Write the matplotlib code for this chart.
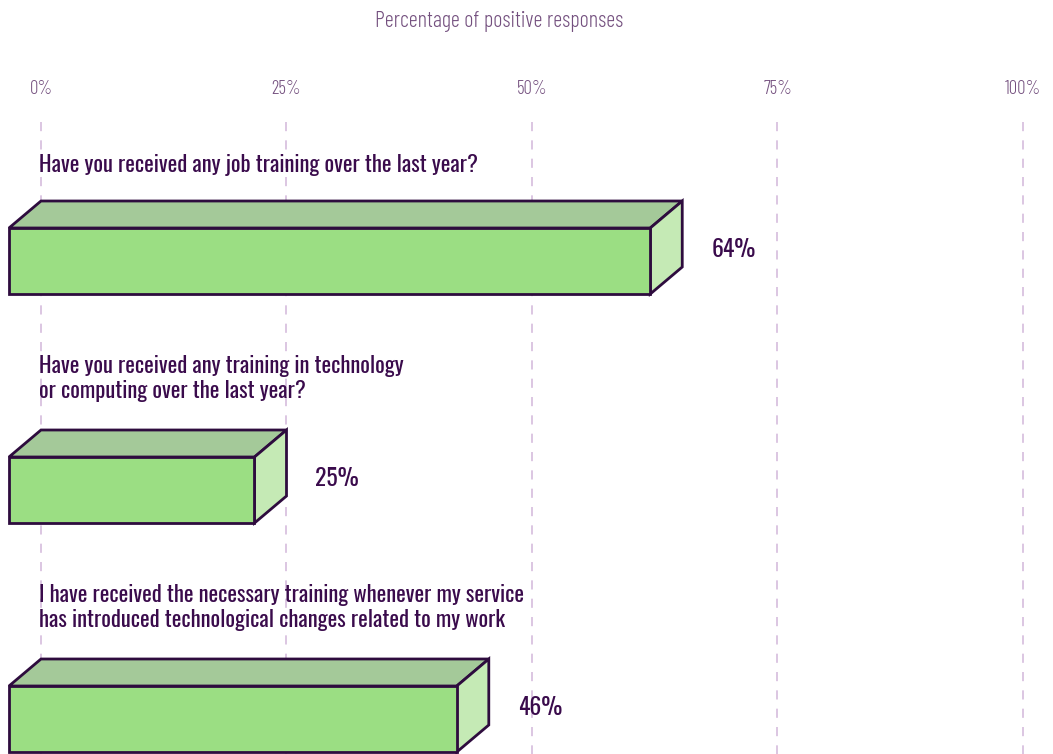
import matplotlib
matplotlib.use("Agg")
import matplotlib.pyplot as plt
from matplotlib.patches import Polygon, Rectangle

# ---- data ----
questions = [
    "Have you received any job training over the last year?",
    "Have you received any training in technology\nor computing over the last year?",
    "I have received the necessary training whenever my service\nhas introduced technological changes related to my work",
]
bar_values = [65.3, 25.0, 45.6]          # bar length (%) as drawn in the picture
value_labels = ["64%", "25%", "46%"]     # printed labels
tick_values = [0, 25, 50, 75, 100]
tick_labels = ["0%", "25%", "50%", "75%", "100%"]
axis_title = "Percentage of positive responses"

# ---- style ----
W, H = 1053, 754
PX_PER_PCT = 9.82
X0_PX = 41
FRONT = "#9bde83"
TOP = "#a4c999"
SIDE = "#c5eab5"
EDGE = "#2e0c3e"
DARK = "#3a0b4c"
MUTED = "#74507f"
GRID = "#d2b6da"
QFONT = "Oswald"
LFONT = "Barlow Condensed"

fig = plt.figure(figsize=(W / 100, H / 100), dpi=100)
ax = fig.add_axes([0, 0, 1, 1])
ax.set_xlim(-X0_PX / PX_PER_PCT, (W - X0_PX) / PX_PER_PCT)
ax.set_ylim(H, 0)
ax.axis("off")

depth_x = 32 / PX_PER_PCT   # depth in % units
depth_y = 27                # depth in px units
bar_h = 66
first_top = 228
spacing = 229

# grid
for t in tick_values:
    ax.plot([t, t], [122, H], color=GRID, lw=1.1, ls=(0, (6, 6)), zorder=0)

for t, lab in zip(tick_values, tick_labels):
    ax.text(t, 89, lab, ha="center", va="center", fontsize=13.5, color=MUTED,
            family=LFONT, fontweight=300)

ax.text((W / 2 - 27 - X0_PX) / PX_PER_PCT, 21, axis_title, ha="center", va="center",
        fontsize=16, color=MUTED, family=LFONT, fontweight=300)

for i, (q, v, lab) in enumerate(zip(questions, bar_values, value_labels)):
    top = first_top + spacing * i
    x_left = -depth_x
    x_right = v - depth_x
    lw = 2.0
    # top face
    ax.add_patch(Polygon([(x_left, top), (x_left + depth_x, top - depth_y),
                          (v, top - depth_y), (x_right, top)],
                         closed=True, facecolor=TOP, edgecolor=EDGE, lw=lw,
                         joinstyle="miter", zorder=2))
    # side face
    ax.add_patch(Polygon([(x_right, top), (v, top - depth_y),
                          (v, top - depth_y + bar_h), (x_right, top + bar_h)],
                         closed=True, facecolor=SIDE, edgecolor=EDGE, lw=lw,
                         joinstyle="miter", zorder=2))
    # front face
    ax.add_patch(Rectangle((x_left, top), x_right - x_left, bar_h,
                           facecolor=FRONT, edgecolor=EDGE, lw=lw,
                           joinstyle="miter", zorder=3))
    # value label
    ax.text(v + 29 / PX_PER_PCT, top - depth_y / 2 + bar_h / 2 + 2, lab,
            ha="left", va="center", fontsize=17, color=DARK, family=QFONT, zorder=4)
    # question
    nlines = q.count("\n") + 1
    q_bottom = top - depth_y - 25 - 3 * (nlines - 1)
    ax.text(-0.2, q_bottom, q, ha="left", va="bottom", fontsize=16.3, color=DARK,
            family=QFONT, linespacing=1.17, zorder=4)

fig.savefig("out.png", dpi=100)
